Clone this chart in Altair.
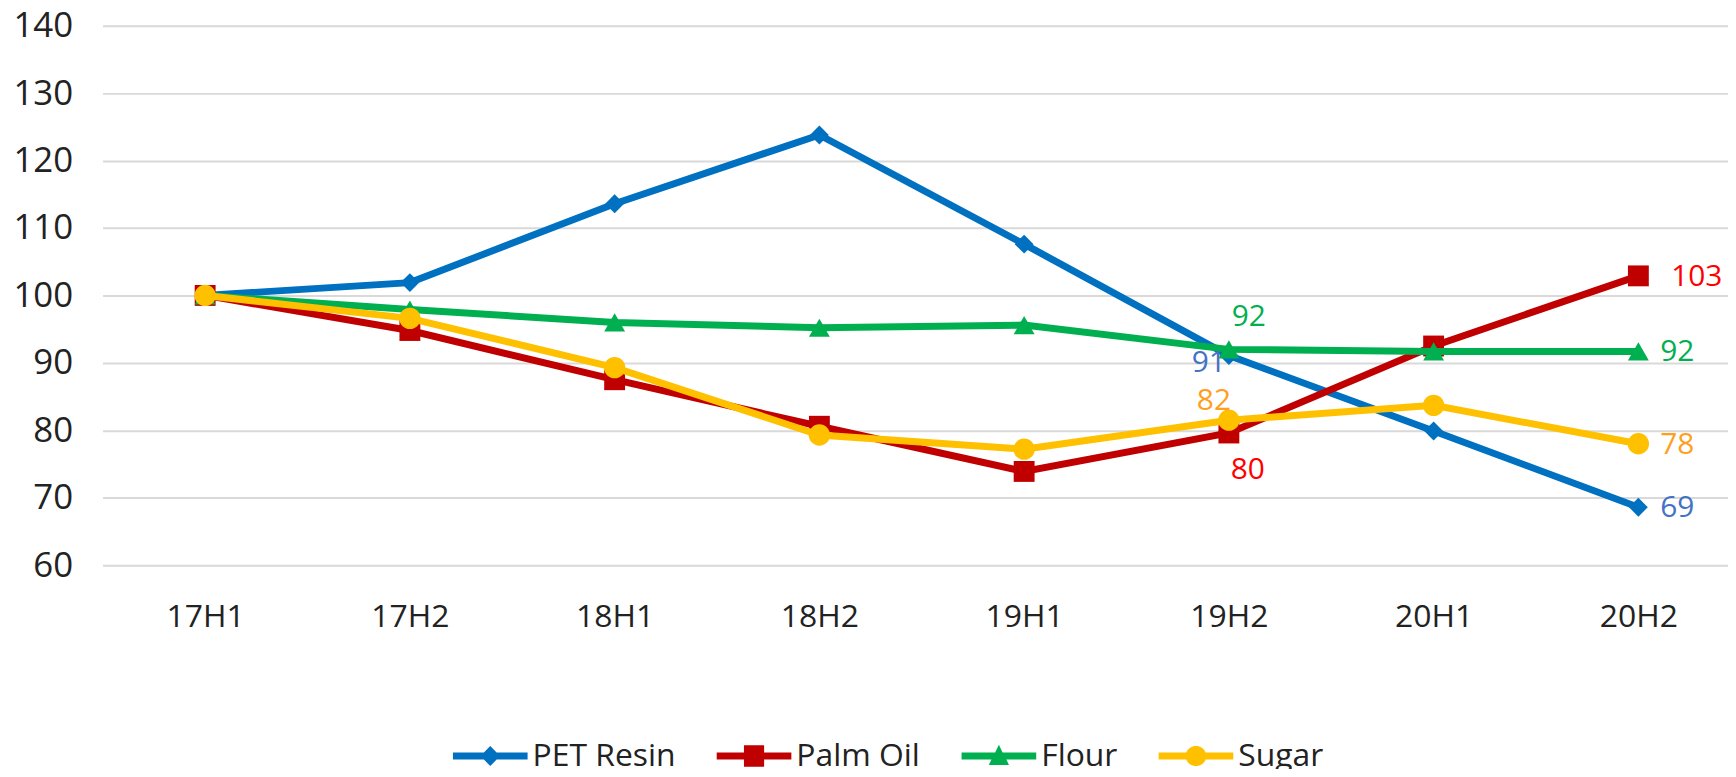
import altair as alt
import pandas as pd

periods = ["17H1", "17H2", "18H1", "18H2", "19H1", "19H2", "20H1", "20H2"]
series = ["PET Resin", "Palm Oil", "Flour", "Sugar"]
pet_resin = [100, 101.9, 113.6, 123.8, 107.6, 91.1, 79.9, 68.6]
palm_oil = [100, 94.8, 87.5, 80.6, 73.9, 79.6, 92.5, 102.9]
flour = [100, 97.9, 96.0, 95.2, 95.6, 92.0, 91.7, 91.7]
sugar = [100, 96.6, 89.3, 79.3, 77.2, 81.5, 83.7, 78.0]

line_colors = ["#0070C0", "#C00000", "#00B050", "#FFC000"]
label_colors = ["#4472C4", "#FF0000", "#00B050", "#FF9F1F"]
marker_shapes = ["diamond", "square", "triangle-up", "circle"]
marker_sizes = [360, 440, 440, 460]

# labelled points: (series, period, placement)
labels = [
    ("PET Resin", "19H2", "left"),
    ("PET Resin", "20H2", "right"),
    ("Palm Oil", "19H2", "below"),
    ("Palm Oil", "20H2", "right103"),
    ("Flour", "19H2", "above"),
    ("Flour", "20H2", "right"),
    ("Sugar", "19H2", "aboveleft"),
    ("Sugar", "20H2", "right"),
]

values = {"PET Resin": pet_resin, "Palm Oil": palm_oil, "Flour": flour, "Sugar": sugar}
rows = []
for s in series:
    for p, v in zip(periods, values[s]):
        rows.append({"period": p, "series": s, "value": v})
df = pd.DataFrame(rows)

lab_rows = []
for s, p, pos in labels:
    v = values[s][periods.index(p)]
    lab_rows.append({"period": p, "series": s, "value": v, "text": str(round(v)), "pos": pos})
ldf = pd.DataFrame(lab_rows)

FONT = "Open Sans"

x_enc = alt.X("period:N", sort=periods,
              scale=alt.Scale(type="point", domain=periods, padding=0.4694, align=0.5337),
              axis=alt.Axis(title=None, labelAngle=0, ticks=False, domain=False, grid=False,
                            labelFontSize=32, labelColor="#222222", labelPadding=37, labelFont=FONT))
y_enc = alt.Y("value:Q", scale=alt.Scale(domain=[60, 140], nice=False, zero=False),
              axis=alt.Axis(title=None, values=list(range(60, 141, 10)), ticks=False, domain=False,
                            gridColor="#D9D9D9", gridWidth=2, labelFontSize=35, labelColor="#222222",
                            labelPadding=30, labelFont=FONT))

base = alt.Chart(df)
layers = []
for i, s in enumerate(series):
    sub = base.transform_filter(alt.datum.series == s)
    layers.append(sub.mark_line(strokeWidth=7, color=line_colors[i]).encode(x=x_enc, y=y_enc))
    layers.append(sub.mark_point(filled=True, opacity=1, shape=marker_shapes[i], size=marker_sizes[i],
                                 color=line_colors[i]).encode(x=x_enc, y=y_enc))

# legend symbols: a thick line segment with the series marker in the middle
h = 0.095
legend_paths = [
    f"M-1,-{h}L-0.17,-{h}L0,-0.27L0.17,-{h}L1,-{h}L1,{h}L0.17,{h}L0,0.27L-0.17,{h}L-1,{h}Z",
    f"M-1,-{h}L-0.27,-{h}L-0.27,-0.29L0.27,-0.29L0.27,-{h}L1,-{h}L1,{h}L0.27,{h}L0.27,0.29L-0.27,0.29L-0.27,{h}L-1,{h}Z",
    f"M-1,-{h}L-0.1,-{h}L0,-0.3L0.1,-{h}L1,-{h}L1,{h}L0.2,{h}L0.27,0.24L-0.27,0.24L-0.2,{h}L-1,{h}Z",
    f"M-1,-{h}L-0.26,-{h}A0.28,0.28 0 0 1 0.26,-{h}L1,-{h}L1,{h}L0.26,{h}A0.28,0.28 0 0 1 -0.26,{h}L-1,{h}Z",
]
legend = alt.Legend(title=None, orient="none", direction="horizontal", legendX=352, legendY=696,
                    symbolSize=5625, symbolOpacity=1, symbolStrokeWidth=0, labelFontSize=32,
                    labelFont=FONT, labelColor="#222222", labelOffset=5, columnPadding=41,
                    symbolLimit=0)
legend_layer = base.mark_point(filled=True, opacity=0).encode(
    x=x_enc, y=y_enc,
    color=alt.Color("series:N", sort=series, scale=alt.Scale(domain=series, range=line_colors), legend=legend),
    shape=alt.Shape("series:N", sort=series, scale=alt.Scale(domain=series, range=legend_paths), legend=legend),
)
layers.append(legend_layer)

lab_base = alt.Chart(ldf)
place = {
    "left": dict(align="right", baseline="middle", dx=-3, dy=8),
    "right": dict(align="left", baseline="middle", dx=22, dy=1),
    "right103": dict(align="left", baseline="middle", dx=33, dy=1),
    "below": dict(align="center", baseline="middle", dx=19, dy=37),
    "above": dict(align="center", baseline="middle", dx=20, dy=-32),
    "aboveleft": dict(align="center", baseline="middle", dx=-15, dy=-19),
}
for pos, kw in place.items():
    for i, s in enumerate(series):
        layers.append(lab_base.transform_filter(
            (alt.datum.pos == pos) & (alt.datum.series == s)).mark_text(
            fontSize=30, font=FONT, color=label_colors[i], **kw).encode(
            x=x_enc, y=y_enc, text="text:N"))

chart = alt.layer(*layers).properties(
    width=1633, height=542,
    background="white",
    autosize=alt.AutoSizeParams(type="none"),
    padding={"left": 95, "top": 16, "right": 0, "bottom": 203},
).configure_view(strokeWidth=0, stroke=None)

chart.save("out.html", embed_options={"renderer": "svg", "actions": False})
